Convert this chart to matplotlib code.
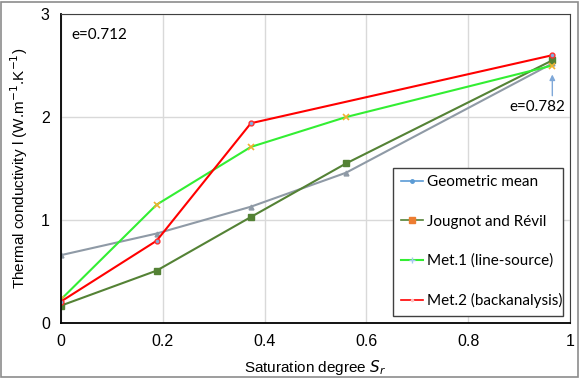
import numpy as np
import matplotlib.pyplot as plt
from matplotlib.lines import Line2D
from matplotlib.patches import Rectangle

# data
sr = [0, 0.188, 0.373, 0.56, 0.965]
geo_mean = [0.66, 0.87, 1.13, 1.46, 2.52]
jougnot = [0.17, 0.51, 1.03, 1.55, 2.55]
met1 = [0.23, 1.15, 1.71, 2.0, 2.50]
sr_met2 = [0, 0.188, 0.373, 0.965]
met2 = [0.21, 0.80, 1.94, 2.60]

labels = ['Geometric mean', 'Jougnot and Révil', 'Met.1 (line-source)', 'Met.2 (backanalysis)']

plt.rcParams['font.family'] = ['Liberation Sans', 'DejaVu Sans']

fig = plt.figure(figsize=(5.8, 3.78), dpi=100)
fig.patches.append(Rectangle((0.002, 0.002), 0.994, 0.993, transform=fig.transFigure,
                             fill=False, edgecolor='#8c8c8c', lw=1.2))
ax = fig.add_axes([0.105, 0.145, 0.878, 0.818])

ax.plot(sr, geo_mean, color='#8f9aa6', lw=1.5, marker='^', ms=3.5, mfc='#8f9aa6', mec='#8f9aa6')
ax.plot(sr, jougnot, color='#548235', lw=1.5, marker='s', ms=4.5, mfc='#548235', mec='#548235')
ax.plot(sr, met1, color='#33ee33', lw=1.5, marker='x', ms=4, mec='#f0b030', mew=1.2)
ax.plot(sr_met2, met2, color='#ff0000', lw=1.5, marker='o', ms=3.5, mfc='#7fb0e0', mec='#ff3030')

ax.set_xlim(0, 1)
ax.set_ylim(0, 3)
ax.set_xticks([0, 0.2, 0.4, 0.6, 0.8, 1])
ax.set_xticklabels(['0', '0.2', '0.4', '0.6', '0.8', '1'])
ax.set_yticks([0, 1, 2, 3])
ax.grid(True, color='#d9d9d9', lw=1)
ax.set_axisbelow(True)
ax.tick_params(length=0, labelsize=11.5, pad=8)
for s in ['top', 'right']:
    ax.spines[s].set_color('#404040')
for s in ['left', 'bottom']:
    ax.spines[s].set_color('black')
    ax.spines[s].set_linewidth(1.3)

ax.set_xlabel('Saturation degree $S_r$', fontsize=11, labelpad=6)
ax.set_ylabel('Thermal conductivity l (W.m$^{-1}$.K$^{-1}$)', fontsize=11, labelpad=8)

ax.text(0.02, 0.92, 'e=0.712', transform=ax.transAxes, fontsize=11, family='Lato')
ax.text(0.88, 0.685, 'e=0.782', transform=ax.transAxes, fontsize=11, family='Lato')
ax.annotate('', xy=(0.965, 2.44), xytext=(0.965, 2.18),
            arrowprops=dict(arrowstyle='-|>', color='#7fa8d8', lw=1, mutation_scale=8))

handles = [
    Line2D([], [], color='#5b9bd5', lw=1.2, marker='o', ms=2.5),
    Line2D([], [], color='#548235', lw=1.2, marker='s', ms=4, mfc='#ed7d31', mec='#ed7d31'),
    Line2D([], [], color='#33ee33', lw=1.5, marker='+', ms=5, mec='#a5c8f0'),
    Line2D([], [], color='#ff0000', lw=1.2, marker='.', ms=3, mfc='#ffc0c0', mec='#ffc0c0'),
]
leg = ax.legend(handles, labels, loc='lower left', bbox_to_anchor=(0.652, 0.023, 0.334, 0.482),
                mode='expand', prop={'family': 'Lato', 'size': 11}, handlelength=1.5,
                handletextpad=0.2, labelspacing=1.65, borderpad=0.5, fancybox=False,
                framealpha=1, edgecolor='#404040', borderaxespad=0)
leg.get_frame().set_linewidth(1)

fig.savefig('out.png', dpi=100)
